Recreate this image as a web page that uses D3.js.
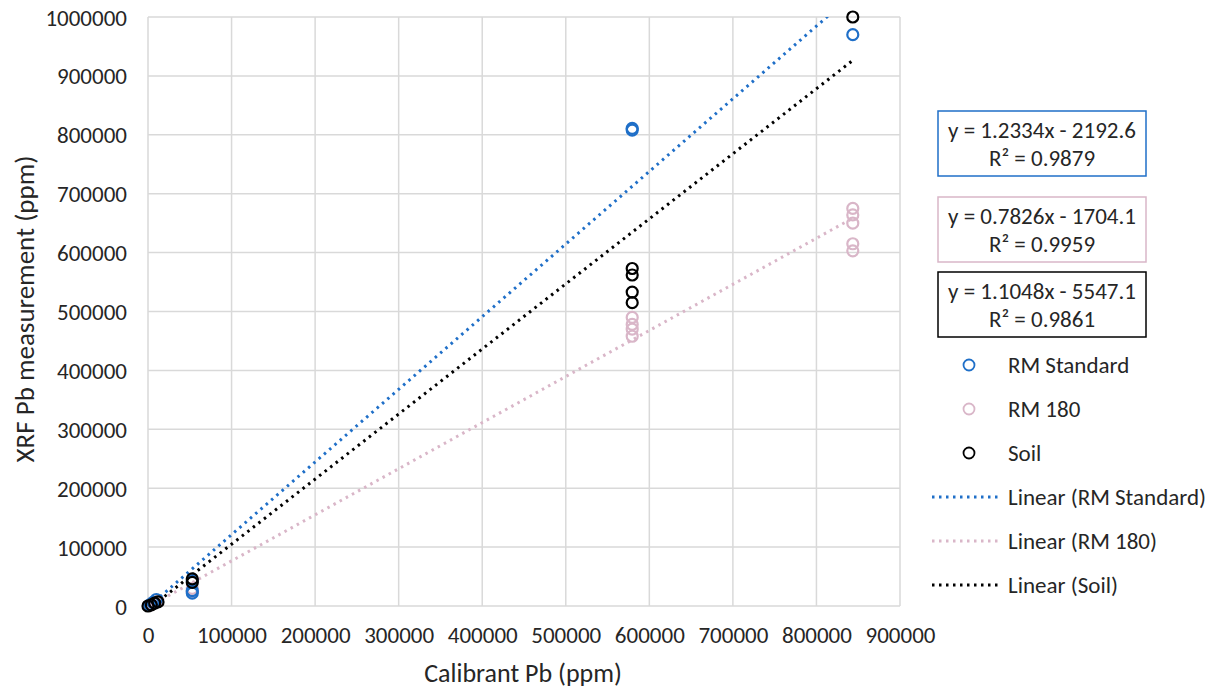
<!DOCTYPE html>
<html><head><meta charset="utf-8">
<script src="https://cdn.jsdelivr.net/npm/d3@7"></script>
<style>
body{margin:0;background:#fff;}
text{font-family:Calibri,Carlito,Lato,sans-serif;fill:#262626;}
</style></head>
<body><svg id="c" width="1220" height="691"></svg>
<script>
const xTicks=[0,100000,200000,300000,400000,500000,600000,700000,800000,900000];
const yTicks=[0,100000,200000,300000,400000,500000,600000,700000,800000,900000,1000000];

const rmStdX=[2000,6000,10000,53000,53000,53000,579500,579500,843500];
const rmStdY=[2000,6000,11000,22000,26000,43000,808000,811000,970000];

const rm180X=[2000,6000,10000,53000,53000,579500,579500,579500,579500,843500,843500,843500,843500,843500];
const rm180Y=[1000,4000,7000,25000,30000,458000,470000,478000,490000,603000,615000,650000,664000,675000];

const soilX=[0,4000,8000,12000,53000,53000,579500,579500,579500,579500,843500];
const soilY=[0,2000,5000,7000,40000,46000,515000,533000,562000,573000,1000000];

const seriesNames=["RM Standard","RM 180","Soil"];
const seriesColors=["#1f6fc8","#d9b6c8","#000000"];
const slopes=[1.2334,0.7826,1.1048];
const intercepts=[-2192.6,-1704.1,-5547.1];
const eqLabels=["y = 1.2334x - 2192.6","y = 0.7826x - 1704.1","y = 1.1048x - 5547.1"];
const r2Labels=["R² = 0.9879","R² = 0.9959","R² = 0.9861"];

const FF="Calibri,Carlito,Lato,sans-serif";
const svg=d3.select("#c");
const L=148,R=900,T=17,B=606;
const x=d3.scaleLinear().domain([0,900000]).range([L,R]);
const y=d3.scaleLinear().domain([0,1000000]).range([B,T]);

// grid
svg.append("g").selectAll("line").data(xTicks).join("line")
 .attr("x1",d=>x(d)).attr("x2",d=>x(d)).attr("y1",T).attr("y2",B)
 .attr("stroke","#d9d9d9").attr("stroke-width",1.5);
svg.append("g").selectAll("line").data(yTicks).join("line")
 .attr("y1",d=>y(d)).attr("y2",d=>y(d)).attr("x1",L).attr("x2",R)
 .attr("stroke","#d9d9d9").attr("stroke-width",1.5);

// axes labels
const xa=svg.append("g").attr("transform",`translate(0,${B+29})`)
 .call(d3.axisBottom(x).tickValues(xTicks).tickFormat(d3.format("d")).tickSize(0).tickPadding(0));
xa.select(".domain").remove();
xa.selectAll("text").attr("font-size",23).attr("dy","0.35em").style("font-family",FF).attr("fill","#262626");
const ya=svg.append("g").attr("transform",`translate(${L-21},0)`)
 .call(d3.axisLeft(y).tickValues(yTicks).tickFormat(d3.format("d")).tickSize(0).tickPadding(0));
ya.select(".domain").remove();
ya.selectAll("text").attr("font-size",23).attr("dy","0.35em").style("font-family",FF).attr("fill","#262626");

svg.append("text").attr("x",523).attr("y",673).attr("dy","0.35em").attr("text-anchor","middle").attr("font-size",26).text("Calibrant Pb (ppm)");
svg.append("text").attr("transform",`translate(25,${(145+473)/2}) rotate(-90)`).attr("dy","0.35em").attr("text-anchor","middle").attr("font-size",27).text("XRF Pb measurement (ppm)");

// clip
svg.append("clipPath").attr("id","clip").append("rect").attr("x",L).attr("y",T).attr("width",R-L).attr("height",B-T);

const data=[[rmStdX,rmStdY],[rm180X,rm180Y],[soilX,soilY]];
// trendlines
const line=d3.line().x(d=>x(d[0])).y(d=>y(d[1]));
[1,2,0].forEach(i=>{
  const xs=data[i][0];
  const x0=d3.min(xs),x1=d3.max(xs);
  const pts=[[x0,slopes[i]*x0+intercepts[i]],[x1,slopes[i]*x1+intercepts[i]]];
  svg.append("path").attr("d",line(pts)).attr("clip-path","url(#clip)")
   .attr("fill","none").attr("stroke",seriesColors[i]).attr("stroke-width",3)
   .attr("stroke-dasharray","2.5 4.5");
});
// points
[1,0,2].forEach(i=>{
  const [xs,ys]=data[i];
  svg.append("g").selectAll("circle").data(d3.range(xs.length)).join("circle")
   .attr("cx",k=>x(xs[k])).attr("cy",k=>y(ys[k])).attr("r",5.5)
   .attr("fill","none").attr("stroke",seriesColors[i]).attr("stroke-width",2.2);
});

// equation boxes
const boxTops=[111,197,272];
boxTops.forEach((t,i)=>{
  svg.append("rect").attr("x",938).attr("y",t).attr("width",208).attr("height",65)
   .attr("fill","#fff").attr("stroke",seriesColors[i]).attr("stroke-width",1.5);
  svg.append("text").attr("x",1042).attr("y",t+19).attr("dy","0.35em").attr("text-anchor","middle").attr("font-size",23).attr("fill","#000").text(eqLabels[i]);
  svg.append("text").attr("x",1042).attr("y",t+47).attr("dy","0.35em").attr("text-anchor","middle").attr("font-size",23).attr("fill","#000").text(r2Labels[i]);
});

// legend
seriesNames.forEach((n,i)=>{
  const yy=365+i*44;
  svg.append("circle").attr("cx",969).attr("cy",yy).attr("r",5.5).attr("fill","none").attr("stroke",seriesColors[i]).attr("stroke-width",1.8);
  svg.append("text").attr("x",1008).attr("y",yy).attr("dy","0.35em").attr("font-size",23).text(n);
});
seriesNames.forEach((n,i)=>{
  const yy=497+i*44;
  svg.append("line").attr("x1",932).attr("x2",999).attr("y1",yy).attr("y2",yy)
   .attr("stroke",seriesColors[i]).attr("stroke-width",3).attr("stroke-dasharray","2.5 4.5");
  svg.append("text").attr("x",1008).attr("y",yy).attr("dy","0.35em").attr("font-size",23).text("Linear ("+n+")");
});
</script></body></html>
